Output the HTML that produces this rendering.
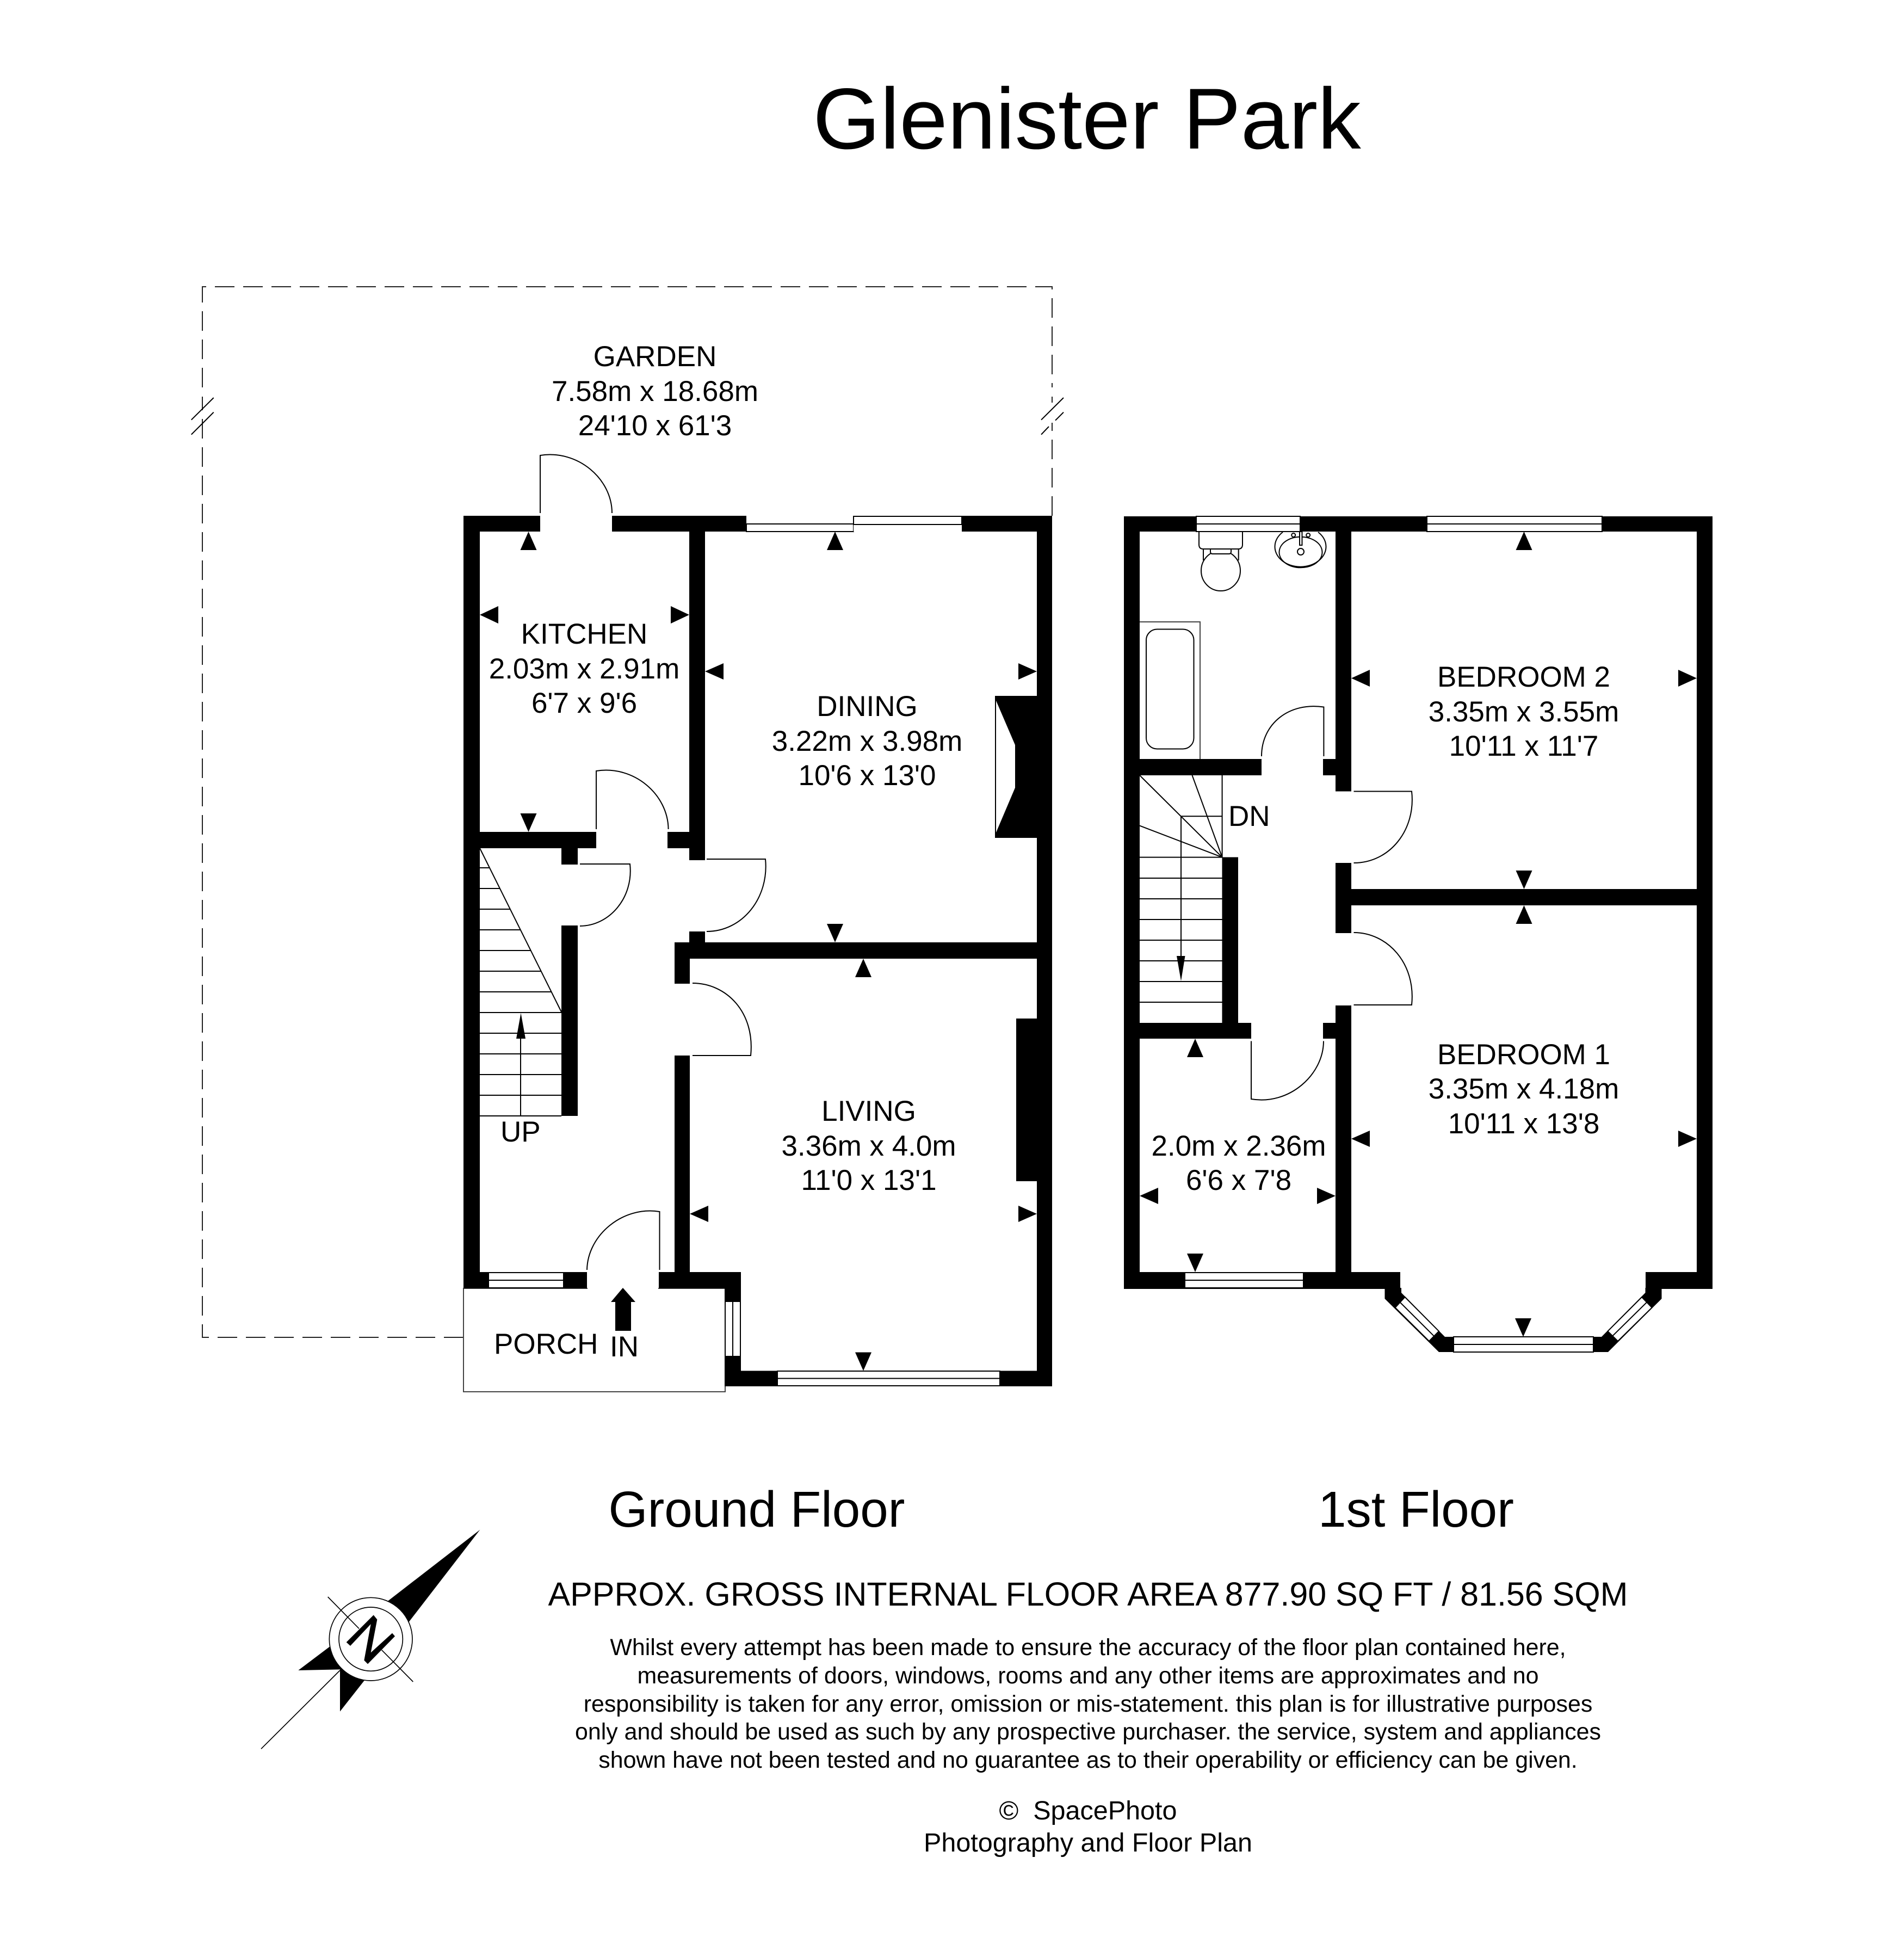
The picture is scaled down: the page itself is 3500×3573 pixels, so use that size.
<!DOCTYPE html>
<html><head><meta charset="utf-8"><style>
html,body{margin:0;padding:0;background:#fff}
svg{display:block}
text{font-family:"Liberation Sans",sans-serif;fill:#000}
.r{font-size:53px;text-anchor:middle}
.d{font-size:42.9px;text-anchor:middle}
.l{fill:none;stroke:#000;stroke-width:2}
.w{fill:#fff;stroke:#000;stroke-width:2}
</style></head><body>
<svg width="3500" height="3573" viewBox="0 0 3500 3573" xmlns="http://www.w3.org/2000/svg">
<rect width="3500" height="3573" fill="#fff"/>
<text x="1998" y="273" font-size="159" text-anchor="middle">Glenister Park</text>

<!-- garden -->
<path d="M852 2458H372V729M372 712V527H1934V948" fill="none" stroke="#222" stroke-width="2" stroke-dasharray="36 16"/>
<rect x="366" y="712" width="12" height="17" fill="#fff"/>
<rect x="1928" y="712" width="12" height="17" fill="#fff"/>
<rect x="1928" y="752" width="12" height="25" fill="#fff"/>
<path class="l" d="M392.7 731L351.7 771.7M392.7 757.7L351.7 798.7M1955 731L1914 771.7M1955 757.7L1940 772.7M1928 784L1914 798.7"/>

<!-- porch -->
<rect x="852" y="2368" width="481" height="190" fill="#fff" stroke="#444" stroke-width="2"/>
<rect x="1080" y="2365" width="130" height="6" fill="#fff"/>

<!-- ground walls -->
<g fill="#000">
<rect x="852" y="948" width="141" height="29"/>
<rect x="1125" y="948" width="247" height="29"/>
<rect x="1768" y="948" width="166" height="29"/>
<rect x="852" y="948" width="30" height="1420"/>
<rect x="1906" y="948" width="28" height="1600"/>
<rect x="1267" y="948" width="29" height="633"/>
<rect x="1267" y="1712" width="29" height="22"/>
<rect x="852" y="1529" width="244" height="30"/>
<rect x="1227" y="1529" width="69" height="30"/>
<rect x="1032" y="1559" width="30" height="30"/>
<rect x="1032" y="1701" width="30" height="350"/>
<rect x="1240" y="1732" width="694" height="30"/>
<rect x="1240" y="1732" width="28" height="76"/>
<rect x="1240" y="1940" width="28" height="398"/>
<rect x="852" y="2338" width="227" height="30"/>
<rect x="1211" y="2338" width="151" height="30"/>
<rect x="1332" y="2338" width="30" height="210"/>
<rect x="1332" y="2519.5" width="602" height="28.5"/>
<rect x="1868" y="1872" width="66" height="299"/>
<rect x="1829" y="1279" width="105" height="261"/>
<rect x="1906" y="1279" width="28" height="261"/>
</g>
<polygon points="1830,1283 1867,1369 1867,1448 1830,1535" fill="#fff" stroke="#000" stroke-width="2"/>

<!-- ground windows -->
<rect class="w" x="1372" y="963" width="197" height="14"/>
<rect class="w" x="1569" y="949" width="199" height="15"/>
<rect x="1372" y="948" width="196" height="14" fill="#fff"/>
<rect x="1569" y="965" width="199" height="12" fill="#fff"/>
<rect class="w" x="898" y="2339" width="138" height="28"/><path class="l" d="M898 2353H1036"/>
<rect class="w" x="1333" y="2392" width="28" height="101"/><path class="l" d="M1347 2392V2493"/>
<rect class="w" x="1429" y="2520" width="409" height="27"/><path class="l" d="M1429 2533.5H1838"/>

<!-- ground doors -->
<g class="l">
<path class="l" d="M993 943V837C1062 826 1125 880 1125 943"/>
<path class="l" d="M1096 1524V1417C1165 1406 1228 1460 1228.6 1524"/>
<path class="l" d="M1066 1588H1158C1165 1650 1120 1702 1066 1702"/>
<path class="l" d="M1299 1579H1407C1414 1650 1365 1712 1299 1712"/>
<path class="l" d="M1273 1807C1335 1807 1388 1860 1380 1940H1273"/>
<path class="l" d="M1212.5 2334V2227C1145 2216 1080 2270 1079 2334"/>
</g>

<!-- ground stairs -->
<path class="l" d="M882 1559L1032 1860M882 1595H900M882 1633H919M882 1671H938M882 1709H957M882 1747H976M882 1785H995M882 1823H1014M882 1861H1032M882 1899H1032M882 1937H1032M882 1975H1032M882 2013H1032M882 2051H1032M957 1900V2051"/>
<polygon points="957.5,1862 966,1909 949,1909"/>

<!-- in arrow -->
<polygon points="1145,2367 1168,2393 1160,2393 1160,2446 1131,2446 1131,2393 1123,2393"/>

<!-- ground markers -->
<g fill="#000">
<polygon points="971.5,977 956.5,1011 986.5,1011"/>
<polygon points="882,1130 916,1114 916,1146"/>
<polygon points="1267,1130 1233,1114 1233,1146"/>
<polygon points="971.5,1529 956.5,1495 986.5,1495"/>
<polygon points="1535,977 1520,1011 1550,1011"/>
<polygon points="1296,1234 1330,1219 1330,1249"/>
<polygon points="1906,1234 1872,1219 1872,1249"/>
<polygon points="1535,1732 1520,1698 1550,1698"/>
<polygon points="1587,1762 1572,1796 1602,1796"/>
<polygon points="1268,2231 1302,2216 1302,2246"/>
<polygon points="1906,2231 1872,2216 1872,2246"/>
<polygon points="1587,2519.5 1572,2485.5 1602,2485.5"/>
</g>

<!-- first floor walls -->
<g fill="#000">
<rect x="2066" y="949" width="132" height="28"/>
<rect x="2390" y="949" width="233" height="28"/>
<rect x="2945" y="949" width="203" height="28"/>
<rect x="2066" y="949" width="29" height="1420"/>
<rect x="3119" y="949" width="29" height="1420"/>
<rect x="2455" y="949" width="29" height="505.5"/>
<rect x="2455" y="1586" width="29" height="129"/>
<rect x="2455" y="1848" width="29" height="521"/>
<rect x="2455" y="1634" width="693" height="30"/>
<rect x="2066" y="1395" width="253" height="30"/>
<rect x="2432" y="1395" width="52" height="30"/>
<rect x="2246.5" y="1575.5" width="29.5" height="305"/>
<rect x="2066" y="1880" width="234" height="29"/>
<rect x="2432" y="1880" width="52" height="29"/>
<rect x="2066" y="2338" width="508" height="31"/>
<rect x="3025" y="2338" width="123" height="31"/>
<polygon points="2545.5,2367 2545.5,2387 2645,2485 2956,2485 3054.5,2387 3054.5,2367 3024.5,2367 3024.5,2376 2944,2457 2656,2457 2576,2376 2576,2367"/>
</g>

<!-- first floor windows -->
<rect class="w" x="2199" y="949" width="191" height="28"/><path class="l" d="M2199 963H2390"/>
<rect class="w" x="2623" y="949" width="322" height="28"/><path class="l" d="M2623 963H2945"/>
<rect class="w" x="2178" y="2339" width="218" height="28"/><path class="l" d="M2178 2353H2396"/>
<rect class="w" x="2672" y="2457" width="257" height="28"/><path class="l" d="M2672 2471H2929"/>
<polygon class="w" points="2582.6,2384 2564.7,2403.3 2627,2465 2645,2446.7"/><path class="l" d="M2573.7 2393.7L2636 2455.7"/>
<polygon class="w" points="3018,2384 3036.6,2403.3 2974,2465 2955.4,2446.7"/><path class="l" d="M3027 2393.7L2964 2455.7"/>

<!-- first floor doors -->
<path class="l" d="M2433.4 1390V1299.5C2370 1290 2319 1330 2319 1390"/>
<path class="l" d="M2488.5 1454.5H2595C2603 1525 2555 1586 2488.5 1586"/>
<path class="l" d="M2488.5 1714C2550 1714 2603 1770 2595 1847H2488.5"/>
<path class="l" d="M2300 1913.5V2020C2370 2032 2433 1975 2433 1913.5"/>

<!-- bath -->
<path d="M2095 1143H2206V1395" fill="none" stroke="#444" stroke-width="2"/>
<rect class="l" x="2107" y="1156.5" width="87.5" height="220" rx="20" ry="20"/>

<!-- wc -->
<path class="l" d="M2212 1009V1030M2276.7 1009V1030"/>
<ellipse class="w" cx="2244" cy="1049" rx="36" ry="37"/>
<path class="w" d="M2204 977H2284V1001Q2284 1009 2276 1009H2212Q2204 1009 2204 1001Z"/>
<path class="w" d="M2225 1009H2263V1014Q2263 1018 2259 1018H2229Q2225 1018 2225 1014Z"/>

<!-- sink -->
<path class="l" d="M2358 978A47 37 0 1 0 2423 978"/>
<ellipse class="l" cx="2391" cy="1015" rx="39.5" ry="28.3"/>
<circle class="w" cx="2391" cy="1014" r="6"/>
<circle class="w" cx="2377.7" cy="983.5" r="3.5"/>
<circle class="w" cx="2404.7" cy="983.5" r="3.5"/>
<rect x="2389" y="977" width="4.5" height="25" class="w" stroke-width="1"/>

<!-- first floor stairs -->
<path class="l" d="M2246.6 1425V1575.6M2095 1425L2246.6 1575.6M2191.5 1425L2246.6 1575.6M2095 1517.6L2246.6 1575.6M2095 1575.6H2246.6M2095 1614H2246.6M2095 1652H2246.6M2095 1690H2246.6M2095 1728H2246.6M2095 1766H2246.6M2095 1804H2246.6M2095 1842H2246.6M2171 1500.3H2246.6M2171 1500.3V1760"/>
<polygon points="2171,1803 2163,1757 2178.5,1757"/>

<!-- first floor markers -->
<g fill="#000">
<polygon points="2801.5,977 2786.5,1011 2816.5,1011"/>
<polygon points="2484,1246.5 2518,1231 2518,1262"/>
<polygon points="3119,1246.5 3085,1231 3085,1262"/>
<polygon points="2801.5,1634 2786.5,1600 2816.5,1600"/>
<polygon points="2801.5,1664 2786.5,1698 2816.5,1698"/>
<polygon points="2484,2093 2518,2078 2518,2108"/>
<polygon points="3119,2093 3085,2078 3085,2108"/>
<polygon points="2800,2457 2785,2423 2815,2423"/>
<polygon points="2197,1909 2182,1943 2212,1943"/>
<polygon points="2095,2198 2129,2183 2129,2213"/>
<polygon points="2455,2198 2421,2183 2421,2213"/>
<polygon points="2197,2338 2182,2304 2212,2304"/>
</g>

<!-- labels -->
<g class="r">
<text class="r" x="1204" y="673">GARDEN</text><text class="r" x="1204" y="737">7.58m x 18.68m</text><text class="r" x="1204" y="800">24'10 x 61'3</text>
<text class="r" x="1074" y="1183">KITCHEN</text><text class="r" x="1074" y="1247">2.03m x 2.91m</text><text class="r" x="1074" y="1310">6'7 x 9'6</text>
<text class="r" x="1594" y="1316">DINING</text><text class="r" x="1594" y="1380">3.22m x 3.98m</text><text class="r" x="1594" y="1443">10'6 x 13'0</text>
<text class="r" x="1597" y="2060">LIVING</text><text class="r" x="1597" y="2124">3.36m x 4.0m</text><text class="r" x="1597" y="2187">11'0 x 13'1</text>
<text class="r" x="2801" y="1262">BEDROOM 2</text><text class="r" x="2801" y="1326">3.35m x 3.55m</text><text class="r" x="2801" y="1389">10'11 x 11'7</text>
<text class="r" x="2801" y="1956">BEDROOM 1</text><text class="r" x="2801" y="2019">3.35m x 4.18m</text><text class="r" x="2801" y="2083">10'11 x 13'8</text>
<text class="r" x="2277" y="2124">2.0m x 2.36m</text><text class="r" x="2277" y="2187">6'6 x 7'8</text>
</g>
<text x="2258" y="1518" font-size="53">DN</text>
<text x="920" y="2098" font-size="53">UP</text>
<text x="908" y="2488" font-size="53">PORCH</text>
<text x="1121" y="2493" font-size="53">IN</text>

<text x="1391" y="2806" font-size="92.5" text-anchor="middle">Ground Floor</text>
<text x="2603" y="2806" font-size="92.5" text-anchor="middle">1st Floor</text>
<text x="2000" y="2951" font-size="61" text-anchor="middle" textLength="1985">APPROX. GROSS INTERNAL FLOOR AREA 877.90 SQ FT / 81.56 SQM</text>
<text class="d" x="2000" y="3042">Whilst every attempt has been made to ensure the accuracy of the floor plan contained here,</text>
<text class="d" x="2000" y="3094">measurements of doors, windows, rooms and any other items are approximates and no</text>
<text class="d" x="2000" y="3146">responsibility is taken for any error, omission or mis-statement. this plan is for illustrative purposes</text>
<text class="d" x="2000" y="3197">only and should be used as such by any prospective purchaser. the service, system and appliances</text>
<text class="d" x="2000" y="3249">shown have not been tested and no guarantee as to their operability or efficiency can be given.</text>
<text x="2000" y="3344" font-size="48.5" text-anchor="middle">©&#160;&#160;SpacePhoto</text>
<text x="2000" y="3403" font-size="48.5" text-anchor="middle">Photography and Floor Plan</text>

<!-- compass -->
<g transform="translate(440 2780) scale(.33333)">
<polygon points="1327,95 820,487 500,738 325,870 555,865 555,1097 690,925 935,603" fill="#000"/>
<circle cx="725" cy="698" r="229" fill="#fff" stroke="#000" stroke-width="5"/>
<circle cx="725" cy="698" r="176" fill="#fff" stroke="#000" stroke-width="5"/>
<path d="M120 1303L555 870M488 465L660 640M785 758L958 933" fill="none" stroke="#000" stroke-width="5"/>
<polygon points="590,715 740,565 760,590 725,772 843,665 858,682 708,835 688,815 725,615 612,735" fill="#000"/>
</g>
</svg>
</body></html>
